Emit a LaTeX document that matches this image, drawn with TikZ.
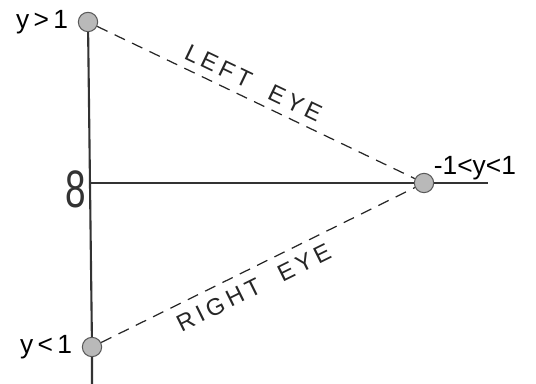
\documentclass[tikz,border=0pt]{standalone}
\usepackage{fontspec}
\setmainfont{Liberation Sans}
\newfontfamily\handfont[LetterSpace=18]{Liberation Sans}
\usetikzlibrary{positioning}
\begin{document}
\begin{tikzpicture}[x=0.02cm, y=-0.02cm,
  dot/.style={circle, fill=gray!55, draw=gray!70!black, line width=0.6pt, minimum size=11pt, inner sep=0pt},
  eyeline/.style={line width=0.7pt, black!85, dash pattern=on 6.5pt off 4.5pt},
  eyetext/.style={sloped, font=\handfont\fontsize{13.5}{15}\selectfont},
  lbl/.style={font=\fontsize{15}{17}\selectfont}]
  \useasboundingbox (0,0) rectangle (536,384);
  \node[dot] (top) at (88,22) {};
  \node[dot] (mid) at (424,183) {};
  \node[dot] (bot) at (92,347) {};
  \coordinate (O) at (90,183);
  \coordinate (B) at (92,384);
  \coordinate (E) at (488,183);
  \draw[line width=1.2pt, black!80] (top) -- (bot) -- (B);
  \draw[line width=0.8pt, black!80] (O) -- (mid) -- (E);
  \draw[eyeline] (top) -- (mid) node[pos=0.47, above=1pt, eyetext] {LEFT\ \ EYE};
  \draw[eyeline] (bot) -- (mid) node[pos=0.46, below=2pt, eyetext] {RIGHT\ \ EYE};
  \node[lbl, left=2pt of top] (ytop) {y\,>\,1};
  \node[lbl, left=2pt of bot] (ybot) {y\,<\,1};
  \node[lbl, above right=-6pt and -2pt of mid] (ymid) {-1<y<1};
  \node[font=\fontsize{30}{32}\selectfont, xscale=0.7, text=black!80] (inf) at (76,189) {8};
\end{tikzpicture}
\end{document}
